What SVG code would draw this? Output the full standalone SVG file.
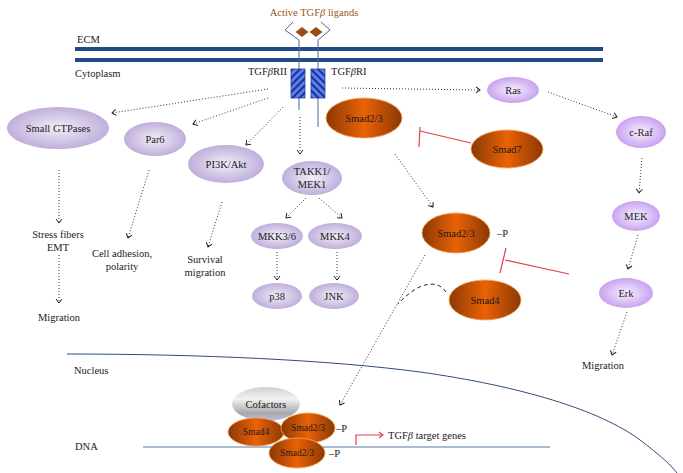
<svg xmlns="http://www.w3.org/2000/svg" width="683" height="473" viewBox="0 0 683 473">
<defs>
<style>
text{font-family:"Liberation Serif","DejaVu Serif",serif;font-size:10.5px;fill:#1a1a1a}
.c{text-anchor:middle}
.sm{font-size:9.5px}
.dot{fill:none;stroke:#333;stroke-width:1;stroke-dasharray:1 2;marker-end:url(#chev)}
.inh{fill:none;stroke:#e5414b;stroke-width:1.2}
.pl{fill:url(#gPurple);stroke:none}
.pr{fill:url(#gLilac);stroke:none}
.or{fill:url(#gOrange);stroke:#f4a55e;stroke-width:0.8}
</style>
<radialGradient id="gPurple" cx="50%" cy="50%" r="55%">
<stop offset="0" stop-color="#f2eef8"/>
<stop offset="1" stop-color="#baa8d8"/>
</radialGradient>
<radialGradient id="gLilac" cx="50%" cy="50%" r="55%">
<stop offset="0" stop-color="#f8f0ff"/>
<stop offset="1" stop-color="#c39bee"/>
</radialGradient>
<linearGradient id="gOrange" x1="0" y1="0" x2="1" y2="0">
<stop offset="0" stop-color="#8a3805"/>
<stop offset="0.5" stop-color="#ea6206"/>
<stop offset="1" stop-color="#8a3805"/>
</linearGradient>
<linearGradient id="gCof" x1="0" y1="0" x2="0" y2="1">
<stop offset="0" stop-color="#d0d0d0"/>
<stop offset="0.35" stop-color="#f2f2f2"/>
<stop offset="0.78" stop-color="#a8a8ac"/>
<stop offset="1" stop-color="#c6bde8"/>
</linearGradient>
<pattern id="hatchL" width="5" height="5" patternUnits="userSpaceOnUse" patternTransform="rotate(45)">
<rect width="5" height="5" fill="#5a7ef0"/>
<rect width="2" height="5" fill="#1c3290"/>
</pattern>
<pattern id="hatchR" width="5" height="5" patternUnits="userSpaceOnUse" patternTransform="rotate(-45)">
<rect width="5" height="5" fill="#5a7ef0"/>
<rect width="2" height="5" fill="#1c3290"/>
</pattern>
<marker id="chev" markerUnits="userSpaceOnUse" markerWidth="10" markerHeight="10" viewBox="-6 -5 8 10" refX="0" refY="0" orient="auto">
<path d="M-4,-3 L0,0 L-4,3" fill="none" stroke="#222" stroke-width="1"/>
</marker>
<marker id="redArr" markerUnits="userSpaceOnUse" markerWidth="10" markerHeight="10" viewBox="-6 -5 8 10" refX="0" refY="0" orient="auto">
<path d="M-4,-3 L0,0 L-4,3" fill="none" stroke="#e5414b" stroke-width="1.2"/>
</marker>
</defs>

<!-- Membrane and compartments -->
<g id="membrane">
<rect x="75" y="47" width="528" height="4" fill="#1f4a86"/>
<rect x="75" y="58" width="528" height="4" fill="#1f4a86"/>
<text x="77" y="43">ECM</text>
<text x="75" y="77">Cytoplasm</text>
</g>

<g id="nucleus">
<path d="M67,354 C200,354 330,360 420,372 C520,386 600,410 640,440 C660,455 672,466 677,473" fill="none" stroke="#2f4d7a" stroke-width="1"/>
<text x="74" y="374">Nucleus</text>
<line x1="143" y1="447" x2="550" y2="447" stroke="#8fa6c2" stroke-width="1.3"/>
<text x="75" y="450">DNA</text>
</g>

<!-- Receptor -->
<g id="ligands">
<text x="314" y="16" class="c" style="fill:#9a5418">Active TGF<tspan font-style="italic">β</tspan> ligands</text>
<polygon points="302,27 308.5,32 302,37 295.5,32" fill="#9b4d14"/>
<polygon points="316,27 322.5,32 316,37 309.5,32" fill="#9b4d14"/>
</g>
<g id="TGFbRII">
<polyline points="293,22 285,30 299,40 299,110" fill="none" stroke="#4a6a9a" stroke-width="1"/>
<rect x="291" y="69" width="14" height="29" fill="url(#hatchL)" stroke="#2a3f9f" stroke-width="0.8"/>
<text x="287" y="75" text-anchor="end">TGF<tspan font-style="italic">β</tspan>RII</text>
</g>
<g id="TGFbRI">
<polyline points="321,22 330,30 318,40 318,127" fill="none" stroke="#4a6a9a" stroke-width="1"/>
<rect x="311" y="69" width="14" height="29" fill="url(#hatchR)" stroke="#2a3f9f" stroke-width="0.8"/>
<text x="331" y="75">TGF<tspan font-style="italic">β</tspan>RI</text>
</g>

<!-- Connectors -->
<g id="connectors">
<path class="dot" d="M268,89 L112,113"/>
<path class="dot" d="M268,98 L193,124"/>
<path class="dot" d="M283,107 L246,145"/>
<path class="dot" d="M300,117 L300,154"/>
<path class="dot" d="M342,88 L480,90"/>
<path class="dot" d="M548,92 L617,117"/>
<path class="dot" d="M642,158 L639,193"/>
<path class="dot" d="M638,235 L628,269"/>
<path class="dot" d="M627,312 L612,355"/>
<path class="dot" d="M395,154 L433,207"/>
<path class="dot" d="M306,198 L286,218"/>
<path class="dot" d="M319,198 L342,218"/>
<path class="dot" d="M277,252 L277,280"/>
<path class="dot" d="M337,252 L337,280"/>
<path class="dot" d="M59,170 L59,223"/>
<path class="dot" d="M59,255 L59,303"/>
<path class="dot" d="M149,170 L128,238"/>
<path class="dot" d="M222,202 L208,247"/>
<path class="dot" d="M425,255 L340,405"/>
<path d="M446,292 C438,280 420,280 398,304" fill="none" stroke="#222" stroke-width="1" stroke-dasharray="4 3"/>
<path class="inh" d="M471,143 L420,131 M420,127 L419,147"/>
<path class="inh" d="M569,274 L505,260 M506,248 L500,273"/>
<path d="M356,445 L356,435 L383,435" fill="none" stroke="#e5414b" stroke-width="1.2" marker-end="url(#redArr)"/>
</g>

<!-- Left purple nodes -->
<g id="smallGTPases"><ellipse class="pl" cx="58" cy="128" rx="51" ry="21"/><text class="c" x="58" y="132">Small GTPases</text></g>
<g id="par6"><ellipse class="pl" cx="155" cy="139" rx="31" ry="17"/><text class="c" x="155" y="143">Par6</text></g>
<g id="pi3k"><ellipse class="pl" cx="226" cy="164" rx="38" ry="19"/><text class="c" x="226" y="168">PI3K/Akt</text></g>
<g id="takk1"><ellipse class="pl" cx="312" cy="178" rx="30" ry="17"/><text class="c" x="312" y="175">TAKK1/</text><text class="c" x="312" y="188">MEK1</text></g>
<g id="mkk36"><ellipse class="pl" cx="277" cy="236" rx="26" ry="13"/><text class="c" x="277" y="240">MKK3/6</text></g>
<g id="mkk4"><ellipse class="pl" cx="335" cy="236" rx="27" ry="13"/><text class="c" x="335" y="240">MKK4</text></g>
<g id="p38"><ellipse class="pl" cx="277" cy="296" rx="25" ry="13"/><text class="c" x="277" y="300">p38</text></g>
<g id="jnk"><ellipse class="pl" cx="334" cy="296" rx="25" ry="13"/><text class="c" x="334" y="300">JNK</text></g>

<!-- Right lilac nodes -->
<g id="ras"><ellipse class="pr" cx="513" cy="90" rx="26" ry="13"/><text class="c" x="513" y="94">Ras</text></g>
<g id="craf"><ellipse class="pr" cx="641" cy="132" rx="25" ry="16"/><text class="c" x="641" y="136">c-Raf</text></g>
<g id="mek"><ellipse class="pr" cx="636" cy="216" rx="24" ry="15"/><text class="c" x="636" y="220">MEK</text></g>
<g id="erk"><ellipse class="pr" cx="626" cy="293" rx="27" ry="15"/><text class="c" x="626" y="297">Erk</text></g>

<!-- Smad nodes -->
<g id="smad23top"><ellipse class="or" cx="364" cy="118" rx="38" ry="20"/><text class="c" x="364" y="122">Smad2/3</text></g>
<g id="smad7"><ellipse class="or" cx="507" cy="149" rx="36" ry="19"/><text class="c" x="507" y="153">Smad7</text></g>
<g id="smad23p"><ellipse class="or" cx="456" cy="233" rx="34" ry="20"/><text class="c" x="456" y="237">Smad2/3</text><text x="497" y="237">–P</text></g>
<g id="smad4"><ellipse class="or" cx="485" cy="300" rx="36" ry="20"/><text class="c" x="485" y="304">Smad4</text></g>

<!-- Outcome labels -->
<g id="outcomes">
<text class="c" x="58" y="238">Stress fibers</text>
<text class="c" x="58" y="251">EMT</text>
<text class="c" x="59" y="321">Migration</text>
<text class="c" x="122" y="257">Cell adhesion,</text>
<text class="c" x="122" y="270">polarity</text>
<text class="c" x="205" y="263">Survival</text>
<text class="c" x="205" y="276">migration</text>
<text class="c" x="603" y="369">Migration</text>
</g>

<!-- Nuclear complex -->
<g id="cofactors"><ellipse cx="266" cy="404" rx="34" ry="17" fill="url(#gCof)"/><text class="c" x="266" y="408">Cofactors</text></g>
<g id="nSmad4"><ellipse class="or" cx="256" cy="432" rx="28" ry="14"/><text class="c sm" x="256" y="435">Smad4</text></g>
<g id="nSmad23a"><ellipse class="or" cx="308" cy="428" rx="27" ry="15"/><text class="c sm" x="308" y="431">Smad2/3</text><text x="336" y="432">–P</text></g>
<g id="nSmad23b"><ellipse class="or" cx="297" cy="453" rx="28" ry="15"/><text class="c sm" x="297" y="456">Smad2/3</text><text x="329" y="457">–P</text></g>
<g id="targetGenes"><text x="388" y="439">TGF<tspan font-style="italic">β</tspan> target genes</text></g>
</svg>
